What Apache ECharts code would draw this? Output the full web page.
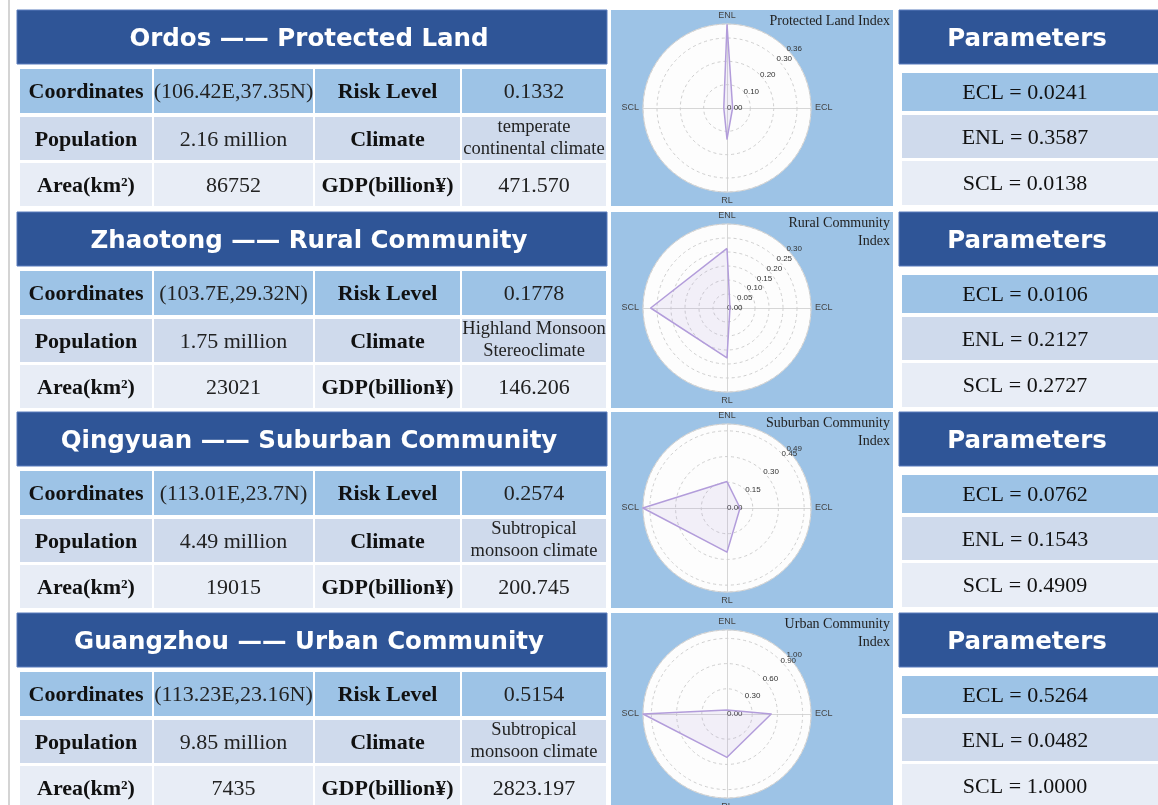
<!DOCTYPE html>
<html><head><meta charset="utf-8">
<script src="https://cdn.jsdelivr.net/npm/echarts@6/dist/echarts.min.js"></script>
<style>html,body{margin:0;padding:0;background:#fff}#c{width:1158px;height:805px}</style>
</head><body><div id="c"></div>
<script>
// ---------- data ----------
const regions = ['Ordos', 'Zhaotong', 'Qingyuan', 'Guangzhou'];
const regionTypes = ['Protected Land', 'Rural Community', 'Suburban Community', 'Urban Community'];
const coordinates = ['(106.42E,37.35N)', '(103.7E,29.32N)', '(113.01E,23.7N)', '(113.23E,23.16N)'];
const riskLevel = [0.1332, 0.1778, 0.2574, 0.5154];
const population = ['2.16 million', '1.75 million', '4.49 million', '9.85 million'];
const climate = ['temperate\ncontinental climate', 'Highland Monsoon\nStereoclimate', 'Subtropical\nmonsoon climate', 'Subtropical\nmonsoon climate'];
const area = ['86752', '23021', '19015', '7435'];
const gdp = ['471.570', '146.206', '200.745', '2823.197'];
const ecl = [0.0241, 0.0106, 0.0762, 0.5264];
const enl = [0.3587, 0.2127, 0.1543, 0.0482];
const scl = [0.0138, 0.2727, 0.4909, 1.0000];
const radarTitles = ['Protected Land Index', 'Rural Community\nIndex', 'Suburban Community\nIndex', 'Urban Community\nIndex'];
const axisMax = [0.36, 0.30, 0.49, 1.00];
const axisInterval = [0.1, 0.05, 0.15, 0.3];
const leftLabels = ['Coordinates', 'Population', 'Area(km²)'];
const midLabels = ['Risk Level', 'Climate', 'GDP(billion¥)'];
// radar indicator order (counter-clockwise from top): ENL, SCL, RL, ECL
const indicatorNames = ['ENL', 'SCL', 'RL', 'ECL'];

// ---------- layout ----------
const secTop = [10, 212, 412, 613];
const headerX = 17, headerW = 590, headerH = 54;
const rowOff = [59, 107, 153], rowH = [44, 43, 43];
const colX = [20, 154, 315, 462], colW = [132, 159, 145, 144];
const paramHeadX = 899, paramHeadW = 262;
const paramX = 902, paramW = 258;
const pRowOff = [63, 105, 151], pRowH = [38, 43, 44];
const panelX = 611, panelW = 282, panelH = 196;
const radarCx = 727, radarCyOff = [98, 96, 96, 101], radarR = 84;
const rowColors = ['#9DC3E6', '#CFDAEC', '#E8EDF6'];
const headColor = '#2F5597';
const serif = '"Liberation Serif", "Times New Roman", serif';
const sans = '"DejaVu Sans", Verdana, sans-serif';
const labelFont = '"Liberation Sans", Arial, sans-serif';

const g = [];
g.push({type: 'rect', shape: {x: 8, y: 0, width: 2, height: 805}, style: {fill: '#d4d4d4'}, z: 0});

function txt(x, y, text, font, fill, align) {
  return {
    type: 'text', x: x, y: y, z: 10,
    style: {text: text, font: font, fill: fill, align: align || 'center', verticalAlign: 'middle', lineHeight: 22}
  };
}

secTop.forEach((t, i) => {
  // header
  g.push({type: 'rect', shape: {x: headerX, y: t, width: headerW, height: headerH},
    style: {fill: headColor, stroke: '#5A7DBD', lineWidth: 1}, z: 1});
  g.push(txt(headerX + headerW / 2 - 3, t + headerH / 2 + 3, regions[i] + ' —— ' + regionTypes[i],
    'bold 24.5px ' + sans, '#fff'));
  // table rows
  const col2 = [coordinates[i], population[i], area[i]];
  const col4 = [riskLevel[i].toFixed(4), climate[i], gdp[i]];
  for (let r = 0; r < 3; r++) {
    const y = t + rowOff[r];
    for (let c = 0; c < 4; c++) {
      g.push({type: 'rect', shape: {x: colX[c], y: y, width: colW[c], height: rowH[r]},
        style: {fill: rowColors[r]}, z: 1});
    }
    const cy = y + rowH[r] / 2 + 1.5;
    g.push(txt(colX[0] + colW[0] / 2, cy, leftLabels[r], 'bold 22px ' + serif, '#111'));
    g.push(txt(colX[1] + colW[1] / 2, cy, col2[r], '22px ' + serif, '#222'));
    g.push(txt(colX[2] + colW[2] / 2, cy, midLabels[r], 'bold 22px ' + serif, '#111'));
    const isMulti = String(col4[r]).indexOf('\n') >= 0;
    g.push(txt(colX[3] + colW[3] / 2, isMulti ? cy - 1.5 : cy, col4[r], (isMulti ? '18.5px ' : '22px ') + serif, '#222'));
  }
  // radar panel
  g.push({type: 'rect', shape: {x: panelX, y: t, width: panelW, height: panelH},
    style: {fill: '#9DC3E6'}, z: 0});
  g.push({type: 'text', x: panelX + panelW - 3, y: t + 2, z: 10,
    style: {text: radarTitles[i], font: '14px ' + serif, fill: '#222', align: 'right', verticalAlign: 'top', lineHeight: 18}});
  // parameters
  g.push({type: 'rect', shape: {x: paramHeadX, y: t, width: paramHeadW, height: headerH},
    style: {fill: headColor, stroke: '#5A7DBD', lineWidth: 1}, z: 1});
  g.push(txt(1027, t + headerH / 2 + 3, 'Parameters', 'bold 24.5px ' + sans, '#fff'));
  const params = ['ECL = ' + ecl[i].toFixed(4), 'ENL = ' + enl[i].toFixed(4), 'SCL = ' + scl[i].toFixed(4)];
  for (let r = 0; r < 3; r++) {
    const y = t + pRowOff[r];
    g.push({type: 'rect', shape: {x: paramX, y: y, width: paramW, height: pRowH[r]},
      style: {fill: rowColors[r]}, z: 1});
    g.push(txt(1025, y + pRowH[r] / 2 + 1.5, params[r], '22px ' + serif, '#111'));
  }
});

const radars = secTop.map((t, i) => ({
  center: [radarCx, t + radarCyOff[i]], radius: radarR, startAngle: 90, shape: 'circle', splitNumber: 1,
  indicator: indicatorNames.map(n => ({name: n, min: 0, max: axisMax[i]})),
  axisName: {color: '#444', fontSize: 9, fontFamily: labelFont},
  nameGap: 4,
  axisLine: {lineStyle: {color: '#d6d6d6', width: 1}},
  splitLine: {lineStyle: {color: '#dcdcdc', width: 1}},
  splitArea: {areaStyle: {color: ['#fdfdfd']}},
  z: 2
}));

// polar systems 0..3: rings + interval labels; 4..7: overlay drawing only the max label
const polars = [];
const angleAxes = [];
const radiusAxes = [];
[0, 1].forEach(layer => {
  secTop.forEach((t, i) => {
    const idx = layer * 4 + i;
    polars.push({center: [radarCx, t + radarCyOff[i]], radius: radarR, z: 3});
    angleAxes.push({
      polarIndex: idx, type: 'value', min: 0, max: 360, startAngle: 45,
      axisLine: {show: false}, axisTick: {show: false}, axisLabel: {show: false}, splitLine: {show: false}
    });
    radiusAxes.push({
      polarIndex: idx, type: 'value', min: 0, max: axisMax[i], interval: axisInterval[i], z: 3,
      axisLine: {show: false}, axisTick: {show: false},
      splitLine: {show: layer === 0, lineStyle: {color: '#cfcfcf', type: [3, 3], width: 1}},
      axisLabel: {fontSize: 8, color: '#333', fontFamily: labelFont,
        formatter: layer === 0 ? (v => v.toFixed(2)) : (v => (Math.abs(v - axisMax[i]) < 1e-9 ? v.toFixed(2) : '')),
        align: 'left', verticalAlign: 'middle', margin: 0,
        showMaxLabel: layer === 1, showMinLabel: layer === 0}
    });
  });
});

const series = secTop.map((t, i) => ({
  type: 'radar', radarIndex: i, symbol: 'none', z: 5, silent: true,
  lineStyle: {color: '#b39ddb', width: 1.5},
  areaStyle: {color: 'rgba(179,157,219,0.2)'},
  data: [{value: [enl[i], scl[i], riskLevel[i], ecl[i]]}]
}));

const chart = echarts.init(document.getElementById('c'));
chart.setOption({
  backgroundColor: '#ffffff',
  animation: false,
  graphic: {elements: g},
  radar: radars,
  polar: polars,
  angleAxis: angleAxes,
  radiusAxis: radiusAxes,
  series: series
});
</script>
</body></html>
